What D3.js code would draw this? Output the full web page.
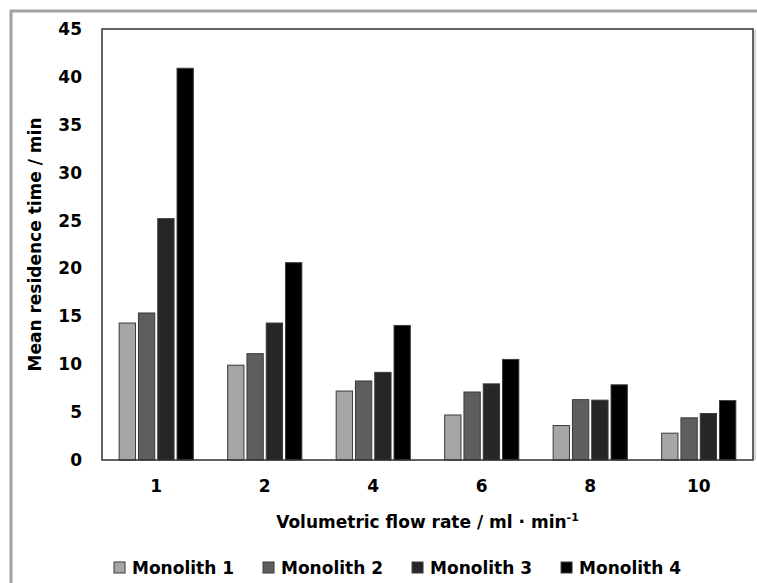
<!DOCTYPE html>
<html>
<head>
<meta charset="utf-8">
<script src="https://cdn.jsdelivr.net/npm/d3@7"></script>
<style>
  body { margin: 0; background: #fff; }
  svg text { font-family: 'DejaVu Sans', sans-serif; font-weight: 700; fill: #000; }
</style>
</head>
<body>
<svg id="chart" width="757" height="583"></svg>
<script>
const flowRates = ['1', '2', '4', '6', '8', '10'];
const seriesNames = ['Monolith 1', 'Monolith 2', 'Monolith 3', 'Monolith 4'];
const monolith1 = [14.3, 9.9, 7.2, 4.7, 3.6, 2.8];
const monolith2 = [15.35, 11.1, 8.25, 7.1, 6.3, 4.4];
const monolith3 = [25.2, 14.3, 9.15, 7.95, 6.25, 4.85];
const monolith4 = [40.9, 20.6, 14.05, 10.5, 7.85, 6.2];
const yTicks = [0, 5, 10, 15, 20, 25, 30, 35, 40, 45];

const values = [monolith1, monolith2, monolith3, monolith4];
const color = ['#a6a6a6', '#5e5e5e', '#262626', '#000000'];

const margin = { left: 102, top: 29, right: 4, bottom: 123 };
const width = 757;
const height = 583;
const fontSize = '17px';

const svg = d3.select('#chart');

// outer gray frame (runs off the page on the right and bottom)
svg.append('rect')
  .attr('x', 11)
  .attr('y', 11)
  .attr('width', 800)
  .attr('height', 700)
  .attr('fill', 'none')
  .attr('stroke', '#a0a0a0')
  .attr('stroke-width', 3);

const x0 = d3.scaleBand()
  .domain(flowRates)
  .range([margin.left, width - margin.right]);

const x1 = d3.scaleBand()
  .domain(seriesNames)
  .range([0, x0.bandwidth()])
  .paddingInner(0.155)
  .paddingOuter(0.89);

const y = d3.scaleLinear()
  .domain([0, 45])
  .range([height - margin.bottom, margin.top]);

// bars
const group = svg.append('g').selectAll('.group')
  .data(flowRates)
  .join('g')
    .attr('class', 'group')
    .attr('transform', d => `translate(${x0(d)},0)`);

group.selectAll('rect')
  .data((d, i) => seriesNames.map((s, j) => ({ series: s, idx: j, value: values[j][i] })))
  .join('rect')
    .attr('x', d => x1(d.series))
    .attr('y', d => y(d.value))
    .attr('width', x1.bandwidth())
    .attr('height', d => y(0) - y(d.value))
    .attr('fill', d => color[d.idx])
    .attr('stroke', '#3a3a3a')
    .attr('stroke-width', 1);

// plot frame
svg.append('line')
  .attr('x1', width - margin.right + 2).attr('x2', width - margin.right + 2)
  .attr('y1', margin.top + 1).attr('y2', y(0))
  .attr('stroke', '#c8c8c8').attr('stroke-width', 1.5);

svg.append('rect')
  .attr('x', margin.left)
  .attr('y', margin.top)
  .attr('width', width - margin.right - margin.left)
  .attr('height', y(0) - margin.top)
  .attr('fill', 'none')
  .attr('stroke', '#303030')
  .attr('stroke-width', 1.5);

// axes
const yAxis = svg.append('g')
  .attr('transform', `translate(${margin.left},0)`)
  .call(d3.axisLeft(y).tickValues(yTicks).tickSize(0).tickPadding(20));
yAxis.select('.domain').remove();
yAxis.selectAll('text').style('font-size', fontSize);

const xAxis = svg.append('g')
  .attr('transform', `translate(0,${y(0)})`)
  .call(d3.axisBottom(x0).tickSize(0).tickPadding(20));
xAxis.select('.domain').remove();
xAxis.selectAll('text').style('font-size', fontSize);

// axis titles
const xTitle = svg.append('text')
  .attr('x', (margin.left + width - margin.right) / 2)
  .attr('y', 528)
  .attr('text-anchor', 'middle')
  .style('font-size', fontSize);
xTitle.append('tspan').text('Volumetric flow rate / ml · min');
xTitle.append('tspan').text('-1').attr('dy', -7).style('font-size', '11px');

svg.append('text')
  .attr('transform', `translate(41,${(margin.top + y(0)) / 2}) rotate(-90)`)
  .attr('text-anchor', 'middle')
  .style('font-size', fontSize)
  .text('Mean residence time / min');

// legend
const legend = svg.append('g').attr('transform', 'translate(114,562)');
let lx = 0;
seriesNames.forEach((name, i) => {
  const item = legend.append('g').attr('transform', `translate(${lx},0)`);
  item.append('rect')
    .attr('width', 11)
    .attr('height', 11)
    .attr('fill', color[i])
    .attr('stroke', '#3a3a3a')
    .attr('stroke-width', 1);
  const t = item.append('text')
    .attr('x', 18)
    .attr('y', 12)
    .style('font-size', fontSize)
    .text(name);
  lx += 18 + t.node().getComputedTextLength() + 29;
});
</script>
</body>
</html>
